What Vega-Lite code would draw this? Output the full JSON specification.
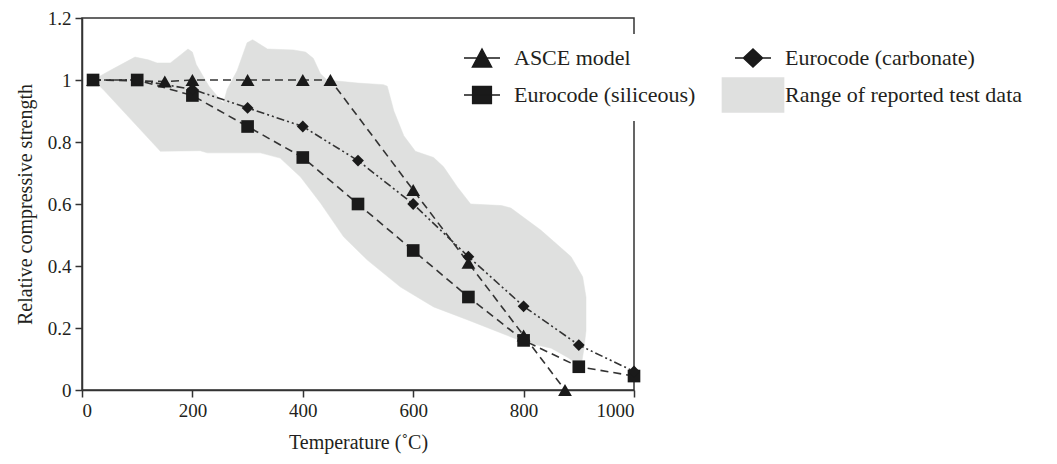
{
  "$schema": "https://vega.github.io/schema/vega-lite/v6.json",
  "width": 552,
  "height": 372,
  "autosize": "none",
  "padding": {"left": 82, "top": 18, "right": 423, "bottom": 74},
  "background": "white",
  "config": {
    "font": "Liberation Serif",
    "view": {"stroke": "#333333", "strokeWidth": 1.5},
    "axis": {
      "grid": false,
      "domainColor": "#333333",
      "domainWidth": 1.5,
      "tickColor": "#333333",
      "tickWidth": 1.5,
      "tickSize": 7,
      "labelFont": "Liberation Serif",
      "labelFontSize": 19,
      "labelColor": "#231f20",
      "labelPadding": 4,
      "titleFont": "Liberation Serif",
      "titleFontSize": 20,
      "titleFontWeight": "normal",
      "titleColor": "#231f20",
      "titlePadding": 12
    },
    "legend": {
      "labelFont": "Liberation Serif",
      "labelFontSize": 22,
      "labelColor": "#231f20",
      "labelLimit": 300
    }
  },
  "datasets": {
    "region": [
      {"i": 1, "T": 20, "v": 1.0},
      {"i": 2, "T": 50, "v": 1.03},
      {"i": 3, "T": 69, "v": 1.048},
      {"i": 4, "T": 96, "v": 1.074},
      {"i": 5, "T": 120, "v": 1.065},
      {"i": 6, "T": 136, "v": 1.055},
      {"i": 7, "T": 160, "v": 1.055},
      {"i": 8, "T": 178, "v": 1.08},
      {"i": 9, "T": 192, "v": 1.10},
      {"i": 10, "T": 200, "v": 1.09},
      {"i": 11, "T": 207, "v": 1.05},
      {"i": 12, "T": 230, "v": 0.98},
      {"i": 13, "T": 256, "v": 0.925},
      {"i": 14, "T": 263, "v": 0.97},
      {"i": 15, "T": 281, "v": 1.03},
      {"i": 16, "T": 299, "v": 1.12},
      {"i": 17, "T": 309, "v": 1.13},
      {"i": 18, "T": 336, "v": 1.10},
      {"i": 19, "T": 383, "v": 1.097},
      {"i": 20, "T": 405, "v": 1.09},
      {"i": 21, "T": 419, "v": 1.07},
      {"i": 22, "T": 432, "v": 1.02},
      {"i": 23, "T": 444, "v": 1.0},
      {"i": 24, "T": 500, "v": 0.99},
      {"i": 25, "T": 546, "v": 0.985},
      {"i": 26, "T": 553, "v": 0.98},
      {"i": 27, "T": 565, "v": 0.90},
      {"i": 28, "T": 583, "v": 0.82},
      {"i": 29, "T": 604, "v": 0.77},
      {"i": 30, "T": 637, "v": 0.75},
      {"i": 31, "T": 655, "v": 0.72},
      {"i": 32, "T": 680, "v": 0.655},
      {"i": 33, "T": 704, "v": 0.60},
      {"i": 34, "T": 760, "v": 0.595},
      {"i": 35, "T": 777, "v": 0.587},
      {"i": 36, "T": 831, "v": 0.516},
      {"i": 37, "T": 886, "v": 0.43},
      {"i": 38, "T": 907, "v": 0.365},
      {"i": 39, "T": 913, "v": 0.30},
      {"i": 40, "T": 913, "v": 0.19},
      {"i": 41, "T": 909, "v": 0.13},
      {"i": 42, "T": 904, "v": 0.075},
      {"i": 43, "T": 880, "v": 0.105},
      {"i": 44, "T": 850, "v": 0.135},
      {"i": 45, "T": 800, "v": 0.155},
      {"i": 46, "T": 759, "v": 0.184},
      {"i": 47, "T": 699, "v": 0.226},
      {"i": 48, "T": 637, "v": 0.268},
      {"i": 49, "T": 577, "v": 0.332},
      {"i": 50, "T": 517, "v": 0.419},
      {"i": 51, "T": 474, "v": 0.494},
      {"i": 52, "T": 432, "v": 0.603},
      {"i": 53, "T": 396, "v": 0.687},
      {"i": 54, "T": 359, "v": 0.748},
      {"i": 55, "T": 323, "v": 0.765},
      {"i": 56, "T": 227, "v": 0.765},
      {"i": 57, "T": 214, "v": 0.772},
      {"i": 58, "T": 142, "v": 0.77},
      {"i": 59, "T": 38, "v": 0.97},
      {"i": 60, "T": 20, "v": 1.0}
    ],
    "curves": [
      {"series": "ASCE model", "T": 20, "v": 1.0},
      {"series": "ASCE model", "T": 150, "v": 0.995},
      {"series": "ASCE model", "T": 200, "v": 1.0},
      {"series": "ASCE model", "T": 300, "v": 1.0},
      {"series": "ASCE model", "T": 400, "v": 1.0},
      {"series": "ASCE model", "T": 450, "v": 1.0},
      {"series": "ASCE model", "T": 600, "v": 0.645},
      {"series": "ASCE model", "T": 700, "v": 0.41},
      {"series": "ASCE model", "T": 800, "v": 0.176},
      {"series": "ASCE model", "T": 875, "v": 0.0},
      {"series": "Eurocode (siliceous)", "T": 20, "v": 1.0},
      {"series": "Eurocode (siliceous)", "T": 100, "v": 1.0},
      {"series": "Eurocode (siliceous)", "T": 200, "v": 0.95},
      {"series": "Eurocode (siliceous)", "T": 300, "v": 0.85},
      {"series": "Eurocode (siliceous)", "T": 400, "v": 0.75},
      {"series": "Eurocode (siliceous)", "T": 500, "v": 0.60},
      {"series": "Eurocode (siliceous)", "T": 600, "v": 0.45},
      {"series": "Eurocode (siliceous)", "T": 700, "v": 0.30},
      {"series": "Eurocode (siliceous)", "T": 800, "v": 0.16},
      {"series": "Eurocode (siliceous)", "T": 900, "v": 0.075},
      {"series": "Eurocode (siliceous)", "T": 1000, "v": 0.045},
      {"series": "Eurocode (carbonate)", "T": 20, "v": 1.0},
      {"series": "Eurocode (carbonate)", "T": 100, "v": 1.0},
      {"series": "Eurocode (carbonate)", "T": 200, "v": 0.97},
      {"series": "Eurocode (carbonate)", "T": 300, "v": 0.91},
      {"series": "Eurocode (carbonate)", "T": 400, "v": 0.85},
      {"series": "Eurocode (carbonate)", "T": 500, "v": 0.74},
      {"series": "Eurocode (carbonate)", "T": 600, "v": 0.60},
      {"series": "Eurocode (carbonate)", "T": 700, "v": 0.43},
      {"series": "Eurocode (carbonate)", "T": 800, "v": 0.27},
      {"series": "Eurocode (carbonate)", "T": 900, "v": 0.145},
      {"series": "Eurocode (carbonate)", "T": 1000, "v": 0.06}
    ]
  },
  "encoding": {
    "x": {
      "field": "T",
      "type": "quantitative",
      "scale": {"domain": [0, 1000], "nice": false, "zero": false},
      "axis": {"values": [0, 200, 400, 600, 800, 1000], "format": "d", "title": "Temperature (˚C)"}
    },
    "y": {
      "field": "v",
      "type": "quantitative",
      "scale": {"domain": [0, 1.2], "nice": false},
      "axis": {"values": [0, 0.2, 0.4, 0.6, 0.8, 1, 1.2], "format": "~g", "title": "Relative compressive strength"}
    }
  },
  "layer": [
    {
      "data": {"name": "region"},
      "mark": {"type": "line", "fill": "#dfe0df", "stroke": "#dfe0df", "strokeWidth": 0.5},
      "encoding": {"order": {"field": "i", "type": "quantitative"}}
    },
    {
      "data": {"name": "curves"},
      "mark": {"type": "line", "color": "#333333", "strokeWidth": 1.6},
      "encoding": {
        "strokeDash": {
          "field": "series",
          "type": "nominal",
          "scale": {
            "domain": ["ASCE model", "Eurocode (siliceous)", "Eurocode (carbonate)"],
            "range": [[8, 5], [8, 5], [8, 3, 2, 3, 2, 3]]
          },
          "legend": null
        }
      }
    },
    {
      "data": {"name": "curves"},
      "transform": [{"filter": "datum.series === 'ASCE model'"}],
      "mark": {"type": "point", "filled": true, "fill": "#1a1a1a", "opacity": 1, "shape": "triangle-up", "size": 190},
      "encoding": {}
    },
    {
      "data": {"name": "curves"},
      "transform": [{"filter": "datum.series === 'Eurocode (siliceous)'"}],
      "mark": {"type": "point", "filled": true, "fill": "#1a1a1a", "opacity": 1, "shape": "square", "size": 160},
      "encoding": {}
    },
    {
      "data": {"name": "curves"},
      "transform": [{"filter": "datum.series === 'Eurocode (carbonate)'"}],
      "mark": {"type": "point", "filled": true, "fill": "#1a1a1a", "opacity": 1, "shape": "diamond", "size": 140},
      "encoding": {}
    },
    {
      "data": {"name": "curves"},
      "mark": {"type": "point", "filled": true, "opacity": 0, "size": 1296, "strokeWidth": 1.5},
      "encoding": {
        "shape": {
          "field": "series",
          "type": "nominal",
          "scale": {
            "domain": ["ASCE model", "Eurocode (siliceous)", "Eurocode (carbonate)", "Range of reported test data"],
            "range": [
              "M-1,0H1M0,-0.5L0.53,0.5L-0.53,0.5Z",
              "M-1,0H1M-0.52,-0.47H0.52V0.47H-0.52Z",
              "M-1,0H1M0,-0.5L0.53,0L0,0.5L-0.53,0Z",
              "M-1.7,-0.95H1.7V0.95H-1.7Z"
            ]
          },
          "legend": {
            "title": null,
            "orient": "none",
            "legendX": 376,
            "legendY": 16,
            "columns": 2,
            "columnPadding": 23,
            "rowPadding": 4,
            "labelOffset": 13,
            "padding": 5,
            "fillColor": "white",
            "symbolOpacity": 1,
            "symbolStrokeWidth": 1.5,
            "symbolSize": 1296
          }
        },
        "fill": {
          "field": "series",
          "type": "nominal",
          "scale": {
            "domain": ["ASCE model", "Eurocode (siliceous)", "Eurocode (carbonate)", "Range of reported test data"],
            "range": ["#1a1a1a", "#1a1a1a", "#1a1a1a", "#dfe0df"]
          },
          "legend": {
            "title": null,
            "orient": "none",
            "legendX": 376,
            "legendY": 16,
            "columns": 2,
            "columnPadding": 23,
            "rowPadding": 4,
            "labelOffset": 13,
            "padding": 5,
            "fillColor": "white",
            "symbolOpacity": 1,
            "symbolStrokeWidth": 1.5,
            "symbolSize": 1296
          }
        },
        "stroke": {
          "field": "series",
          "type": "nominal",
          "scale": {
            "domain": ["ASCE model", "Eurocode (siliceous)", "Eurocode (carbonate)", "Range of reported test data"],
            "range": ["#1a1a1a", "#1a1a1a", "#1a1a1a", "#dfe0df"]
          },
          "legend": {
            "title": null,
            "orient": "none",
            "legendX": 376,
            "legendY": 16,
            "columns": 2,
            "columnPadding": 23,
            "rowPadding": 4,
            "labelOffset": 13,
            "padding": 5,
            "fillColor": "white",
            "symbolOpacity": 1,
            "symbolStrokeWidth": 1.5,
            "symbolSize": 1296
          }
        }
      }
    }
  ]
}
